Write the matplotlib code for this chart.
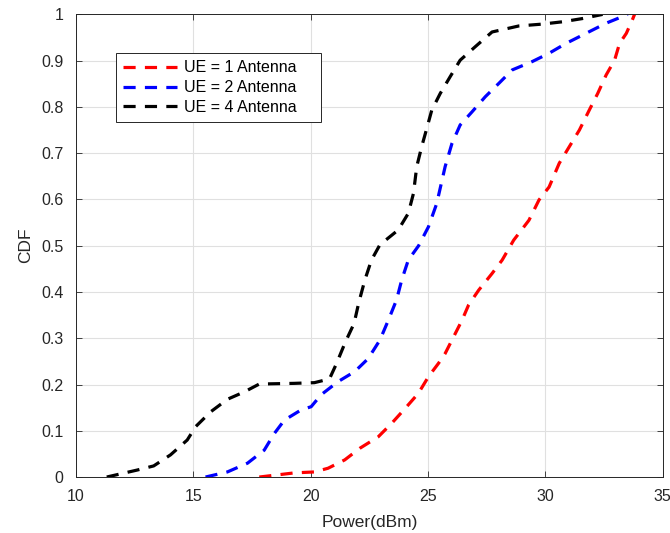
import matplotlib
matplotlib.use("Agg")
import matplotlib.pyplot as plt

plt.rcParams['font.family'] = ['Liberation Sans', 'DejaVu Sans']

# Power (dBm) and CDF samples for each UE antenna configuration
power_ue1 = [17.81, 19.31, 20.16, 20.74, 21.45, 22.09, 22.88, 23.45, 24.02, 24.59,
             25.02, 25.45, 25.73, 26.09, 26.45, 26.73, 27.16, 27.73, 28.16, 28.65,
             29.30, 29.73, 30.16, 30.59, 31.02, 31.45, 31.87, 32.23, 32.59, 32.95,
             33.16, 33.45, 33.73, 33.80]
cdf_ue1 = [0.0, 0.009, 0.011, 0.019, 0.037, 0.062, 0.087, 0.116, 0.148, 0.181,
           0.217, 0.246, 0.267, 0.303, 0.339, 0.372, 0.404, 0.440, 0.469, 0.512,
           0.555, 0.599, 0.627, 0.678, 0.714, 0.750, 0.793, 0.829, 0.869, 0.901,
           0.937, 0.959, 0.991, 1.0]

power_ue2 = [15.52, 16.45, 17.31, 18.02, 18.45, 18.88, 19.59, 20.02, 20.45, 21.16,
             21.88, 22.45, 22.95, 23.31, 23.66, 23.88, 24.16, 24.60, 25.02, 25.37,
             25.73, 26.02, 26.37, 26.87, 27.44, 28.02, 28.59, 29.44, 30.16, 30.87,
             31.73, 32.59, 33.51]
cdf_ue2 = [0.0, 0.011, 0.030, 0.058, 0.094, 0.123, 0.145, 0.152, 0.178, 0.206,
           0.228, 0.256, 0.296, 0.339, 0.383, 0.426, 0.469, 0.500, 0.541, 0.591,
           0.671, 0.721, 0.761, 0.789, 0.822, 0.851, 0.880, 0.898, 0.916, 0.937,
           0.959, 0.981, 1.0]

power_ue4 = [11.31, 12.60, 13.31, 14.03, 14.74, 15.10, 15.74, 16.45, 17.17, 17.81,
             19.31, 20.16, 20.80, 21.09, 21.48, 21.85, 22.05, 22.31, 22.59, 22.95,
             23.73, 24.16, 24.38, 24.52, 24.73, 24.95, 25.16, 25.52, 25.94, 26.37,
             27.01, 27.73, 28.87, 29.87, 30.73, 31.58, 32.44]
cdf_ue4 = [0.0, 0.015, 0.024, 0.048, 0.080, 0.109, 0.141, 0.168, 0.184, 0.201,
           0.2025, 0.204, 0.212, 0.244, 0.292, 0.332, 0.377, 0.426, 0.469, 0.502,
           0.534, 0.570, 0.613, 0.671, 0.714, 0.754, 0.793, 0.829, 0.865, 0.901,
           0.930, 0.962, 0.975, 0.979, 0.984, 0.991, 1.0]

labels = ['UE = 1 Antenna', 'UE = 2 Antenna', 'UE = 4 Antenna']
colors = ['#ff0000', '#0000ff', '#000000']

xticks = [10, 15, 20, 25, 30, 35]
yticks = [0, 0.1, 0.2, 0.3, 0.4, 0.5, 0.6, 0.7, 0.8, 0.9, 1]
ytick_labels = ['0', '0.1', '0.2', '0.3', '0.4', '0.5', '0.6', '0.7', '0.8', '0.9', '1']

fig = plt.figure(figsize=(6.7, 5.33), dpi=100)
ax = fig.add_axes([0.1134, 0.105, 0.8757, 0.868])

series = [(power_ue1, cdf_ue1), (power_ue2, cdf_ue2), (power_ue4, cdf_ue4)]
for (x, y), c, lab in zip(series, colors, labels):
    ax.plot(x, y, linestyle=(0, (3.8, 2.9)), color=c, linewidth=2.3, label=lab)

ax.set_xlim(10, 35)
ax.set_ylim(0, 1)
ax.set_xticks(xticks)
ax.set_yticks(yticks)
ax.set_yticklabels(ytick_labels)
ax.grid(True, color='#e0e0e0', linewidth=0.8)
ax.set_axisbelow(True)
ax.tick_params(direction='in', top=True, right=True, length=4, width=0.6,
               colors='#262626', labelsize=11.5, labelcolor='#262626')
ax.tick_params(axis='x', pad=8.5)
ax.tick_params(axis='y', pad=9)
for s in ax.spines.values():
    s.set_color('#262626')
    s.set_linewidth(0.7)

ax.set_xlabel('Power(dBm)', fontsize=12.5, color='#262626', labelpad=8)
ax.set_ylabel('CDF', fontsize=12.5, color='#262626', labelpad=6)

leg = ax.legend(loc='upper left', bbox_to_anchor=(0.0677, 0.766, 0.3494, 0.15),
                mode='expand', borderaxespad=0,
                fontsize=11.5, handlelength=3.4, handletextpad=0.4, fancybox=False,
                framealpha=1, edgecolor='#262626', borderpad=0.45, labelspacing=0.3)
leg.get_frame().set_linewidth(0.7)

fig.savefig('out.png', dpi=100)
